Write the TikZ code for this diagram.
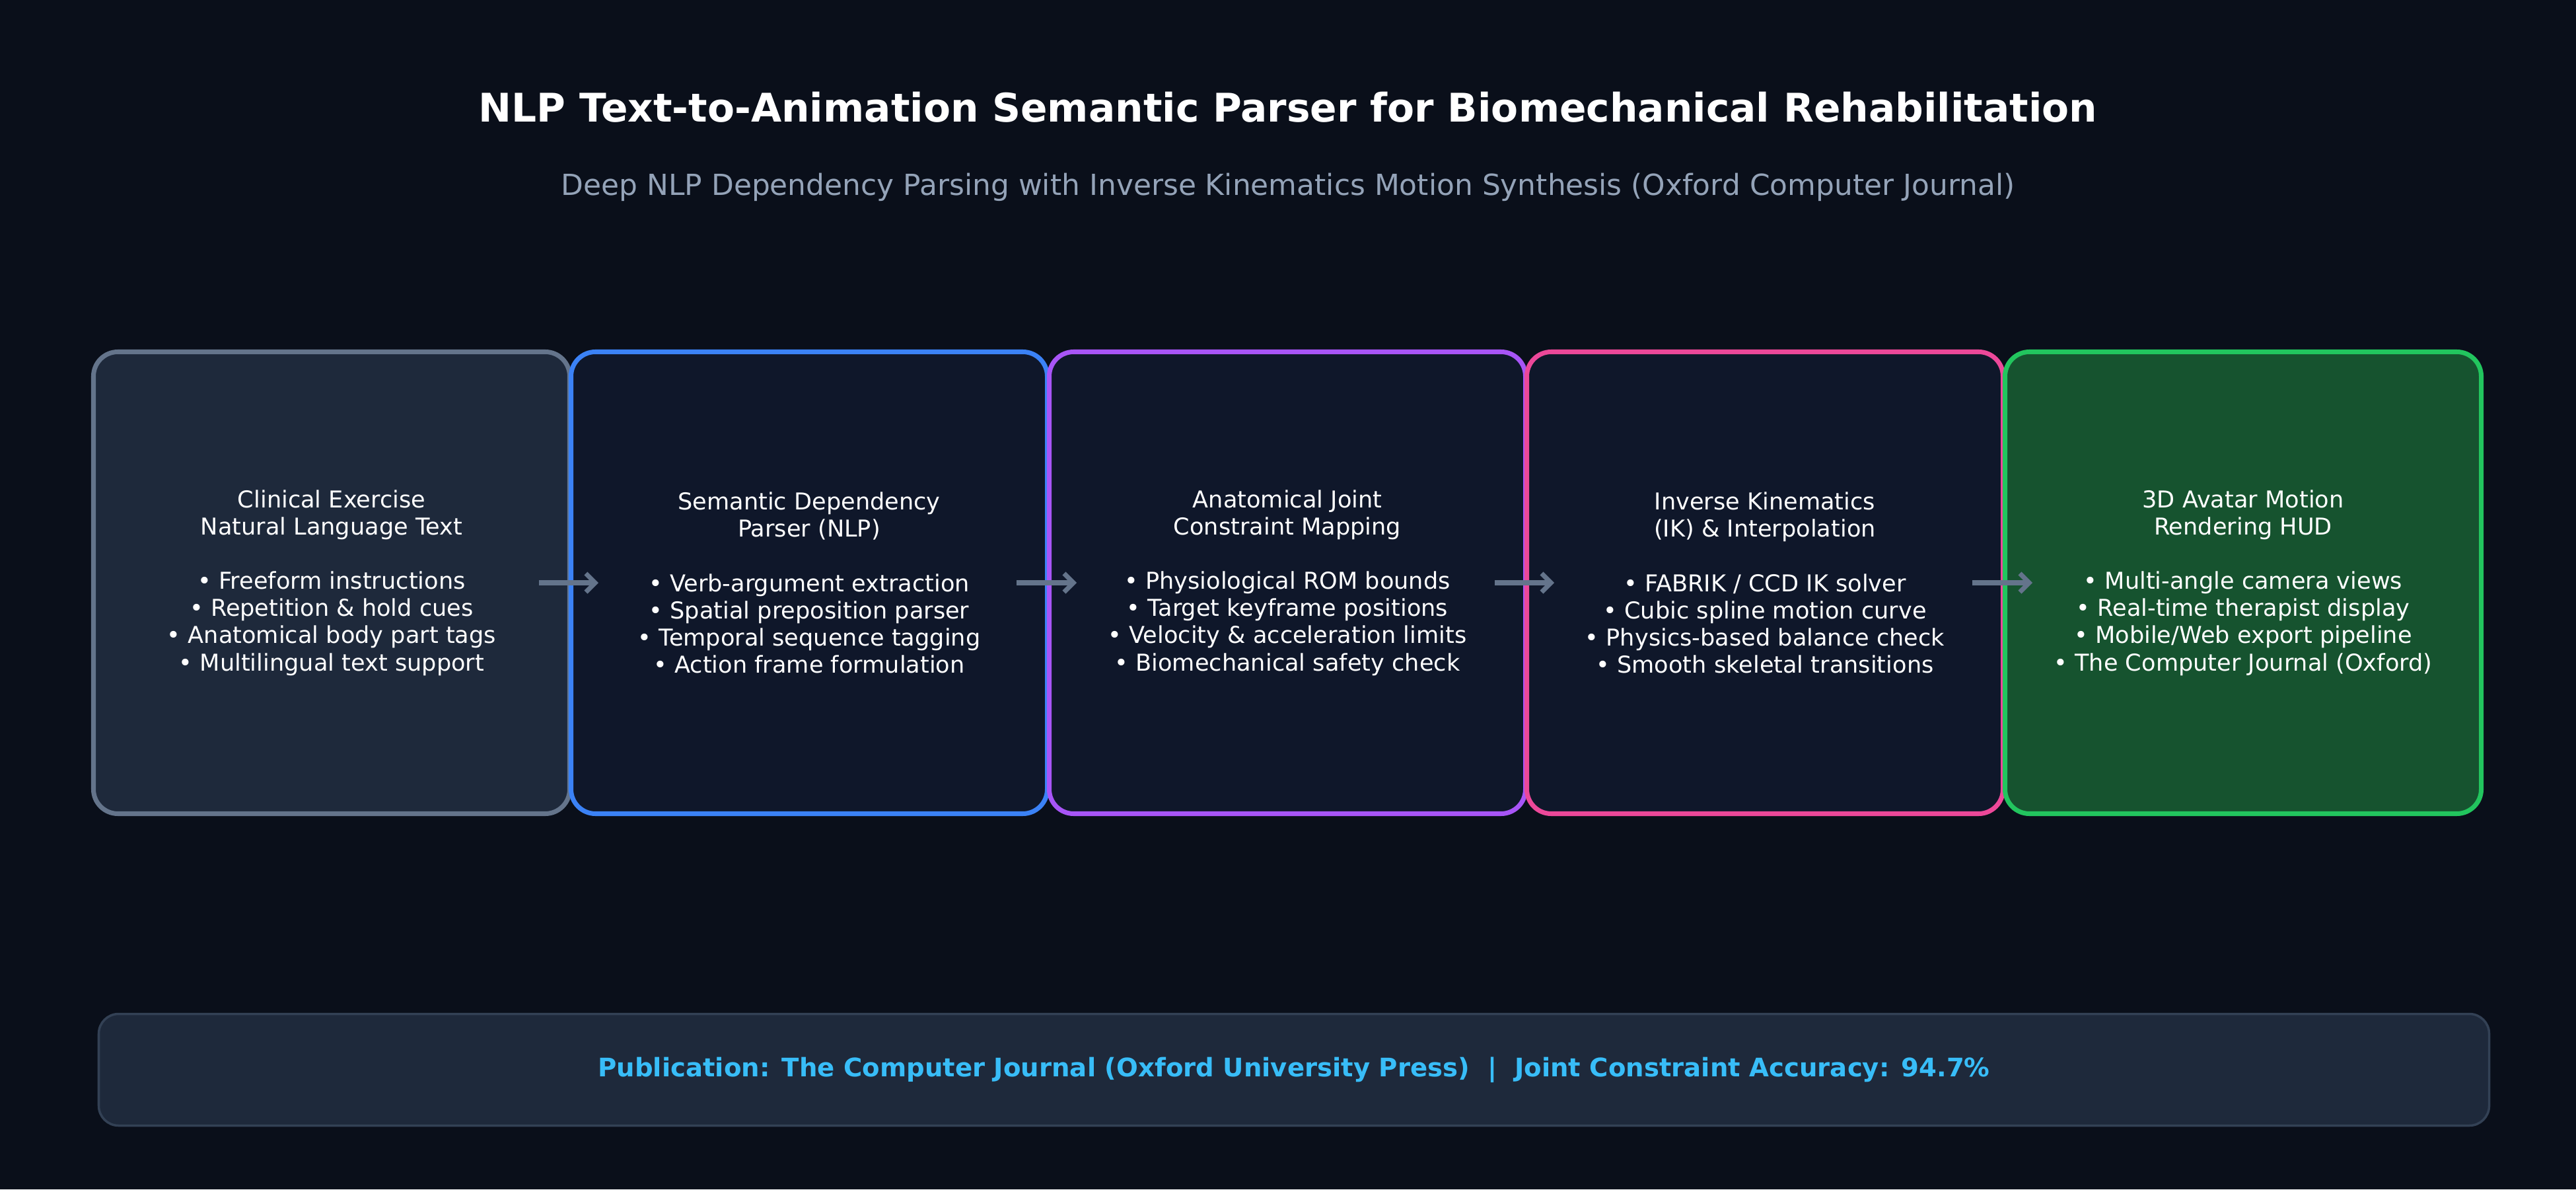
\documentclass[tikz,border=0pt]{standalone}
\usepackage{fontspec}
\setmainfont{DejaVu Sans}
\usetikzlibrary{positioning,arrows.meta}
\definecolor{bgdark}{HTML}{0A0F1A}
\definecolor{slatefill}{HTML}{1E293B}
\definecolor{navyfill}{HTML}{0F172A}
\definecolor{greenfill}{HTML}{16532F}
\definecolor{slateline}{HTML}{64748B}
\definecolor{blueline}{HTML}{3B82F6}
\definecolor{purpleline}{HTML}{A855F7}
\definecolor{pinkline}{HTML}{EC4899}
\definecolor{greenline}{HTML}{22C55E}
\definecolor{subgray}{HTML}{94A3B8}
\definecolor{barline}{HTML}{334155}
\definecolor{cyantext}{HTML}{38BDF8}
\tikzset{
  stage/.style={draw, line width=2pt, rounded corners=0.37cm, minimum width=7.21cm,
    minimum height=6.99cm, align=center, text=white,
    font=\fontsize{10}{11.7}\selectfont},
  flow/.style={draw=slateline, line width=2pt, ->, >={Straight Barb[length=4pt,width=8pt]}}
}
\begin{document}
\begin{tikzpicture}
\fill[bgdark] (0,0) rectangle (39,18);
\useasboundingbox (0,0) rectangle (39,18);

\node[text=white, font=\fontsize{17}{20}\selectfont\bfseries] (title) at (19.5,16.38)
  {NLP Text-to-Animation Semantic Parser for Biomechanical Rehabilitation};
\node[text=subgray, font=\fontsize{12.5}{15}\selectfont] (subtitle) at (19.5,15.17)
  {Deep NLP Dependency Parsing with Inverse Kinematics Motion Synthesis (Oxford Computer Journal)};

\node[stage, fill=slatefill, draw=slateline] (text) at (5.02,9.18)
  {Clinical Exercise\\Natural Language Text\\[11.7pt]• Freeform instructions\\• Repetition \& hold cues\\• Anatomical body part tags\\• Multilingual text support};
\node[stage, fill=navyfill, draw=blueline] (parser) at (12.25,9.18)
  {Semantic Dependency\\Parser (NLP)\\[11.7pt]• Verb-argument extraction\\• Spatial preposition parser\\• Temporal sequence tagging\\• Action frame formulation};
\node[stage, fill=navyfill, draw=purpleline] (joint) at (19.49,9.18)
  {Anatomical Joint\\Constraint Mapping\\[11.7pt]• Physiological ROM bounds\\• Target keyframe positions\\• Velocity \& acceleration limits\\• Biomechanical safety check};
\node[stage, fill=navyfill, draw=pinkline] (ik) at (26.72,9.18)
  {Inverse Kinematics\\(IK) \& Interpolation\\[11.7pt]• FABRIK / CCD IK solver\\• Cubic spline motion curve\\• Physics-based balance check\\• Smooth skeletal transitions};
\node[stage, fill=greenfill, draw=greenline] (avatar) at (33.96,9.18)
  {3D Avatar Motion\\Rendering HUD\\[11.7pt]• Multi-angle camera views\\• Real-time therapist display\\• Mobile/Web export pipeline\\• The Computer Journal (Oxford)};

\draw[flow] ([xshift=-0.5cm]text.east) -- ([xshift=0.45cm]parser.west);
\draw[flow] ([xshift=-0.5cm]parser.east) -- ([xshift=0.45cm]joint.west);
\draw[flow] ([xshift=-0.5cm]joint.east) -- ([xshift=0.45cm]ik.west);
\draw[flow] ([xshift=-0.5cm]ik.east) -- ([xshift=0.45cm]avatar.west);

\node[draw=barline, line width=1pt, fill=slatefill, rounded corners=0.3cm,
  minimum width=36.19cm, minimum height=1.69cm, text=cyantext,
  font=\fontsize{11}{13}\selectfont\bfseries] (footer) at (19.59,1.81)
  {Publication: The Computer Journal (Oxford University Press)\ \ |\ \ Joint Constraint Accuracy: 94.7\%};
\end{tikzpicture}
\end{document}
